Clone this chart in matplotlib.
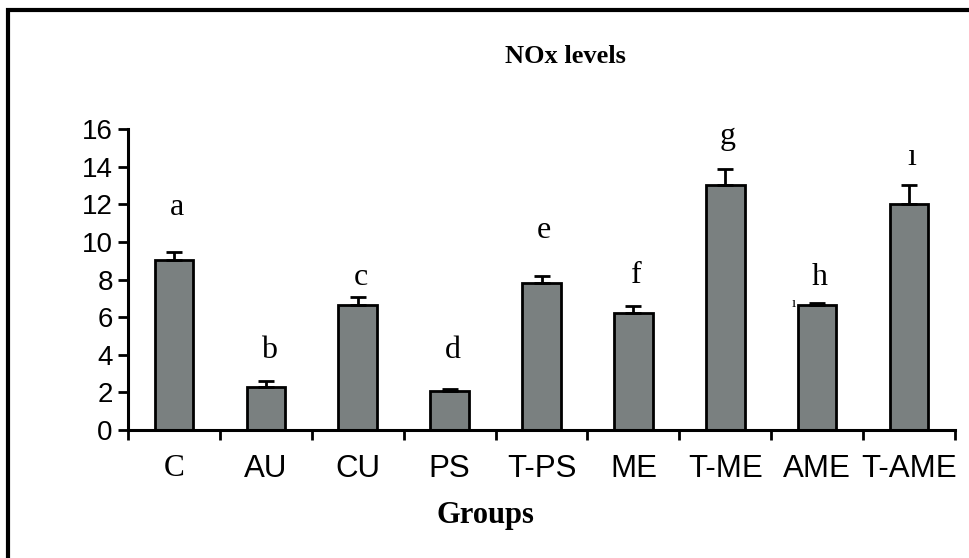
import matplotlib.pyplot as plt
import numpy as np
from matplotlib.patches import Rectangle

groups = ['C', 'AU', 'CU', 'PS', 'T-PS', 'ME', 'T-ME', 'AME', 'T-AME']
nox = [9.05, 2.3, 6.65, 2.05, 7.8, 6.2, 13.05, 6.65, 12.0]
err = [0.4, 0.3, 0.4, 0.15, 0.4, 0.4, 0.85, 0.1, 1.0]
letters = ['a', 'b', 'c', 'd', 'e', 'f', 'g', 'h', 'ı']
letter_y = [11.85, 4.25, 8.1, 4.25, 10.6, 8.2, 15.6, 8.1, 14.5]

serif = 'Liberation Serif'
sans = 'Liberation Sans'

fig = plt.figure(figsize=(9.7, 5.58), dpi=100)
ax = fig.add_axes([0.132, 0.2294, 0.8525, 0.5394])

x = np.arange(len(groups))
ax.bar(x, nox, width=0.42, color='#7a8080', edgecolor='black', linewidth=2,
       yerr=[np.zeros(len(err)), err], capsize=6,
       error_kw=dict(elinewidth=2, capthick=2, ecolor='black'), zorder=2)

for xi, lab, ly in zip(x, letters, letter_y):
    ax.text(xi + 0.03, ly, lab, ha='center', va='center', fontsize=23, family=serif)
# small stray mark next to the AME bar
ax.text(x[7] - 0.25, 6.75, 'ı', ha='center', va='center', fontsize=11, family=serif)

ax.set_xlim(-0.5, len(groups) - 0.5)
ax.set_ylim(0, 16)
ax.set_yticks(np.arange(0, 17, 2))
ax.set_xticks(x)
ax.set_xticklabels(groups, family=sans, fontsize=22.5)
ax.get_xticklabels()[0].set_family(serif)
ax.set_xticks(np.arange(-0.5, len(groups), 1), minor=True)
ax.tick_params(axis='x', which='major', length=0, pad=17)
ax.tick_params(axis='x', which='minor', length=7, width=2, direction='out')
ax.tick_params(axis='y', length=7, width=2, direction='out', pad=4, labelsize=20)
for t in ax.get_yticklabels():
    t.set_family(sans)

for s in ['top', 'right']:
    ax.spines[s].set_visible(False)
for s in ['left', 'bottom']:
    ax.spines[s].set_linewidth(2.2)

fig.text(0.583, 0.899, 'NOx levels', ha='center', va='center', fontsize=19,
         fontweight='bold', family=serif)
fig.text(0.5, 0.077, 'Groups', ha='center', va='center', fontsize=22,
         fontweight='bold', family=serif)

# outer frame (right and bottom edges fall outside the image)
fig.patches.append(Rectangle((8 / 970, -0.1), 1.2, 1 - 10 / 558 + 0.1,
                             transform=fig.transFigure, fill=False,
                             edgecolor='black', linewidth=3))

fig.savefig('out.png', dpi=100)
